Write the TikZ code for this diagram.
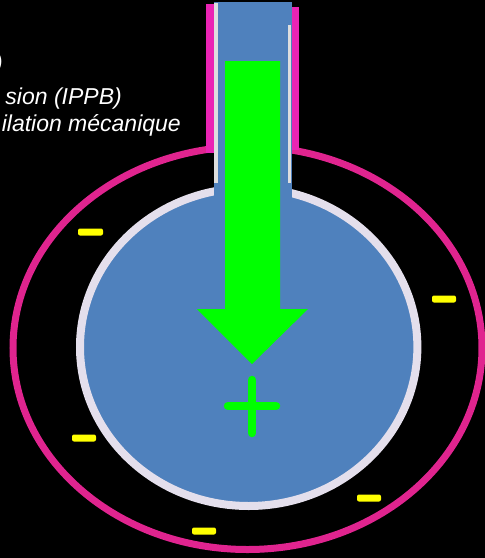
\documentclass[tikz,border=0pt]{standalone}
\usepackage{fontspec}
\setmainfont{Liberation Sans}
\definecolor{tubemag}{RGB}{234,36,180}
\definecolor{ringmag}{RGB}{224,36,143}
\definecolor{lungblue}{RGB}{79,129,189}
\definecolor{rimlav}{RGB}{228,223,236}
\definecolor{edgegrey}{RGB}{222,222,222}
\definecolor{flowgreen}{RGB}{0,255,0}
\definecolor{chargeyel}{RGB}{255,255,0}
\tikzset{
  caption/.style={text=white, font=\itshape\fontsize{23}{27}\selectfont, inner sep=0pt},
  minus/.style={fill=chargeyel, rounded corners=2pt},
  plusbar/.style={draw=flowgreen, line width=8.5pt, line cap=round},
}
\begin{document}
\begin{tikzpicture}[x=1pt,y=-1pt]
  % page and background
  \useasboundingbox (0,0) rectangle (485,558);
  \fill[black] (0,0) rectangle (485,558);

  % captions (partly outside the frame)
  \node[caption, anchor=base east] (capA) at (3,70) {)};
  \node[caption, anchor=base east] (capB) at (122,104) {sion (IPPB)};
  \node[caption, anchor=base east] (capC) at (181,131) {ilation mécanique};

  % outer pleural ring
  \draw[ringmag, line width=7pt] (247.5,348) ellipse [x radius=234.5, y radius=201.5];

  % tube walls
  \fill[tubemag] (206,4) rectangle (214,153);
  \fill[tubemag] (292,7) rectangle (299,150);

  % lung with light rim
  \filldraw[fill=lungblue, draw=rimlav, line width=8pt] (248.7,347) ellipse [x radius=168.7, y radius=159];

  % airway (neck)
  \fill[lungblue] (214,2) rectangle (292,200);
  \fill[edgegrey] (214,3) rectangle (218,183);
  \fill[edgegrey] (288,25) rectangle (291,183);

  % inflow arrow
  \fill[flowgreen] (225,61) -- (280,61) -- (280,309) -- (308,309) -- (252,364)
                   -- (197,309) -- (225,309) -- cycle;

  % positive sign
  \draw[plusbar] (252,380) -- (252,433);
  \draw[plusbar] (228,406) -- (276,406);

  % negative signs
  \fill[minus] (78,228.5) rectangle (103,235.5);
  \fill[minus] (432,295.5) rectangle (456,302.5);
  \fill[minus] (72,434.5) rectangle (96,441.5);
  \fill[minus] (357,494.5) rectangle (381,501.5);
  \fill[minus] (192,527.5) rectangle (216,534.5);
\end{tikzpicture}
\end{document}
